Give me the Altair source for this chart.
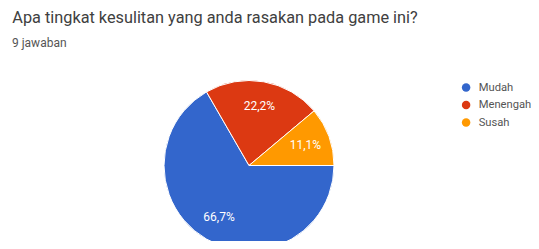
import math
import altair as alt
import pandas as pd

categories = ["Mudah", "Menengah", "Susah"]
counts = [6, 2, 1]
colors = ["#3366cc", "#dc3912", "#ff9900"]
title_text = "Apa tingkat kesulitan yang anda rasakan pada game ini?"
subtitle_text = "9 jawaban"

total = sum(counts)
labels = [f"{c / total * 100:.1f}".replace(".", ",") + "%" for c in counts]
df = pd.DataFrame({"cat": categories, "n": counts, "order": list(range(len(counts))), "label": labels})

CX, CY, R = 241, 157.5, 85

theta = alt.Theta("n:Q", stack=True, scale=alt.Scale(range=[math.pi / 2, math.pi / 2 + 2 * math.pi]))
color = alt.Color(
    "cat:N",
    scale=alt.Scale(domain=categories, range=colors),
    sort=categories,
    legend=alt.Legend(
        title=None, orient="none", legendX=452.5, legendY=74, symbolType="circle",
        symbolSize=72, labelFontSize=11.2, labelColor="#555555", labelFont="Roboto",
        rowPadding=5.5, labelOffset=7, symbolStrokeWidth=0,
    ),
)

base = alt.Chart(df)
pie = base.mark_arc(outerRadius=R, stroke="white", strokeWidth=1).encode(
    theta=theta, color=color, order=alt.Order("order:Q"),
    x=alt.value(CX), y=alt.value(CY),
)
text = base.mark_text(radius=60, color="white", fontSize=12, font="Roboto").encode(
    theta=theta, order=alt.Order("order:Q"), text="label:N",
    x=alt.value(CX), y=alt.value(CY),
)

tdf = pd.DataFrame({"t": [title_text]})
sdf = pd.DataFrame({"t": [subtitle_text]})
title = alt.Chart(tdf).mark_text(align="left", baseline="alphabetic", fontSize=16.3, font="Roboto", color="#404040").encode(
    text="t:N", x=alt.value(4.3), y=alt.value(15)
)
subtitle = alt.Chart(sdf).mark_text(align="left", baseline="alphabetic", fontSize=12, font="Roboto", color="#555555").encode(
    text="t:N", x=alt.value(4), y=alt.value(38.5)
)

chart = alt.layer(pie, text, title, subtitle).properties(
    width=523, height=233,
    autosize=alt.AutoSizeParams(type="none"),
    padding=0,
).configure_view(stroke=None)

chart.save("out.html", embed_options={"renderer": "svg", "actions": False})
